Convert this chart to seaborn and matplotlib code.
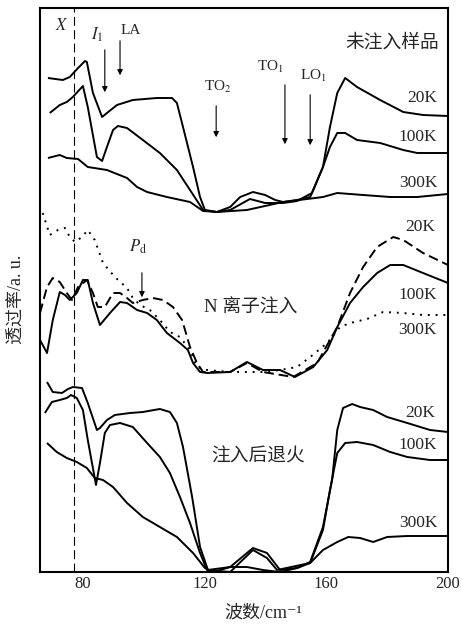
import matplotlib
matplotlib.use('Agg')
import matplotlib.pyplot as plt
import seaborn as sns

# ---- 未注入样品 (top group) ----
wn_u20 = [68.5, 73.4, 75.7, 78.4, 80.7, 81.3, 83.3, 86.3, 87.9, 91.2, 96.4, 104.3, 109.3, 110.9, 112.9, 116.2,
          118.5, 120.1, 124.0, 128.4, 131.7, 135.9, 139.9, 143.2, 145.8, 150.4, 154.7, 158.9, 161.2, 163.6,
          166.2, 170.1, 177.7, 185.3, 191.8, 200]
tr_u20 = [494, 492, 495, 504, 511, 510, 479, 455, 459, 467, 472, 474, 474, 469, 445, 405,
          375, 362, 360, 365, 375, 380, 377, 372, 370, 372, 375, 405, 445, 479,
          494, 485, 472, 460, 457, 456]

wn_u100 = [69.1, 72.4, 74.7, 76.7, 80, 81.6, 84.6, 86.3, 87.9, 89.9, 91.5, 94.5, 99.7, 105.3, 110.9, 115.2,
           119.5, 124.0, 128.4, 134.9, 139.9, 145.8, 150.4, 155.3, 158.9, 161.2, 163.6, 166.2, 170.1, 177.7,
           185.3, 189.9, 200]
tr_u100 = [459, 467, 470, 475, 486, 465, 415, 411, 425, 442, 446, 444, 432, 419, 402, 382,
           362, 360, 362, 373, 369, 369, 371, 379, 405, 425, 439, 439, 432, 429,
           422, 419, 419]

wn_u300 = [68.5, 72.4, 74.7, 78.4, 81.6, 87.9, 94.5, 97.8, 101.1, 107.6, 115.2, 119.5, 124.0, 133.9, 145.8,
           153.7, 158.9, 163.6, 172.1, 181.0, 189.9, 200]
tr_u300 = [414, 417, 414, 413, 405, 402, 394, 385, 380, 375, 370, 361, 360, 362, 370,
           373, 375, 379, 377, 375, 375, 378]

# ---- N 离子注入 (middle group) ----
wn_n20 = [65.9, 68.2, 70.1, 72.4, 74.7, 76.4, 78.4, 81.3, 83.3, 84.9, 87.2, 89.9, 92.2, 94.5, 96.4, 99.7,
          103.0, 106.3, 109.6, 112.6, 115.2, 117.5, 119.5, 128.4, 133.9, 139.2, 149.1, 157.0, 163.6, 167.8,
          172.1, 176.7, 182.0, 185.3, 191.8, 200]
tr_n20 = [259, 285, 294, 290, 279, 272, 285, 292, 279, 265, 265, 279, 279, 274, 269, 272,
          274, 272, 265, 252, 225, 209, 200, 200, 209, 200, 195, 209, 245, 279,
          305, 325, 335, 332, 319, 307]

wn_n100 = [65.9, 68.2, 70.1, 72.4, 74.1, 75.7, 78.0, 80, 81.6, 83.3, 85.6, 88.9, 92.2, 94.5, 97.8, 101.1,
           104.3, 107.6, 111.9, 114.5, 116.2, 118.5, 120.8, 128.4, 133.9, 139.2, 144.8, 149.7, 155.7, 160.3,
           163.6, 167.8, 172.1, 176.7, 181.0, 185.3, 191.8, 200]
tr_n100 = [232, 219, 252, 280, 277, 272, 279, 292, 292, 269, 247, 259, 270, 269, 262, 259,
           252, 239, 229, 222, 209, 200, 199, 200, 210, 202, 202, 195, 205, 222,
           245, 269, 285, 299, 307, 307, 299, 289]

wn_n300 = [66.8, 69.1, 71.8, 74.1, 75.7, 77.4, 79.7, 81.6, 83.9, 86.6, 90.5, 94.5, 96.4, 98.8, 102.0, 105.3,
           108.6, 111.9, 115.2, 117.5, 120.8, 128.4, 133.9, 139.2, 144.8, 150.4, 154.7, 160.3, 164.5, 167.8,
           173.4, 178.7, 185.3, 191.8, 200]
tr_n300 = [359, 337, 342, 344, 335, 330, 335, 342, 332, 309, 295, 284, 274, 267, 262, 252,
           240, 235, 222, 205, 202, 200, 200, 200, 202, 205, 215, 229, 245, 249,
           253, 260, 259, 257, 257]

# ---- 注入后退火 (bottom group) ----
wn_a20 = [68.2, 70.1, 73.1, 75.1, 76.7, 79.7, 81.6, 84.6, 85.6, 87.9, 90.5, 95.5, 99.7, 105.3, 108.6, 110.9,
          112.9, 115.9, 118.5, 121.1, 128.4, 135.9, 140.5, 144.8, 150.4, 154.7, 158.9, 161.9, 163.6, 165.5,
          168.5, 171.1, 175.4, 180.0, 186.6, 194.1, 200]
tr_a20 = [190, 180, 179, 183, 185, 184, 169, 142, 144, 152, 157, 159, 160, 163, 160, 149,
          125, 75, 25, 2, 5, 24, 19, 2, 4, 10, 45, 92, 142, 164,
          168, 165, 162, 155, 149, 142, 140]

wn_a100 = [67.5, 69.8, 72.4, 74.7, 76.1, 78.0, 80, 81.6, 84.3, 85.6, 87.2, 88.9, 92.2, 96.4, 101.1, 105.3,
           108.6, 111.9, 115.2, 118.5, 120.8, 128.4, 135.9, 140.5, 143.8, 154.7, 158.9, 161.2, 163.6, 166.2,
           170.1, 175.4, 181.0, 186.6, 194.1, 200]
tr_a100 = [159, 170, 172, 174, 177, 174, 162, 132, 87, 109, 139, 147, 149, 145, 129, 115,
           99, 75, 49, 19, 2, 0, 22, 14, 2, 9, 42, 82, 119, 129,
           130, 127, 120, 115, 112, 112]

wn_a300 = [68.2, 71.4, 74.7, 78.0, 81.3, 83.9, 86.6, 89.9, 94.5, 99.7, 105.3, 110.9, 116.2, 120.1, 122.8,
           128.4, 133.9, 139.2, 144.8, 150.4, 154.7, 158.9, 163.6, 167.2, 171.1, 175.4, 180.0, 186.6, 200]
tr_a300 = [129, 120, 114, 110, 104, 94, 92, 85, 69, 55, 45, 35, 19, 4, 0,
           5, 5, 2, 0, 4, 9, 22, 30, 35, 34, 30, 35, 36, 36]

x_mark = 77.2   # X 点位置
major_ticks = [80, 120, 160, 200]
minor_ticks = [100, 140, 180]

sns.set_style('white')
plt.rcParams['font.family'] = ['Liberation Serif', 'Noto Sans CJK SC', 'DejaVu Serif']
plt.rcParams['mathtext.fontset'] = 'stix'

fig = plt.figure(figsize=(4.62, 6.25), dpi=100)
ax = fig.add_axes([0.0866, 0.0848, 0.8831, 0.9024])

solid = (0, ())
dashed = (0, (5, 2.5))
dotted = (0, (1, 3))
curves = [
    (wn_u20, tr_u20, solid), (wn_u100, tr_u100, solid), (wn_u300, tr_u300, solid),
    (wn_n20, tr_n20, dashed), (wn_n100, tr_n100, solid), (wn_n300, tr_n300, dotted),
    (wn_a20, tr_a20, solid), (wn_a100, tr_a100, solid), (wn_a300, tr_a300, solid),
]
for wn, tr, ls in curves:
    sns.lineplot(x=wn, y=tr, ax=ax, color='black', linewidth=1.4, linestyle=ls,
                 sort=False, estimator=None)

ax.axvline(x_mark, color='black', linewidth=0.8, linestyle=(0, (8, 4)))

ax.set_xlim(65.9, 200)
ax.set_ylim(0, 564)
ax.set_xticks(major_ticks)
ax.set_xticks(minor_ticks, minor=True)
ax.set_yticks([])
ax.tick_params(axis='x', which='both', direction='in', length=8, width=1.2,
               labelsize=12, pad=3, top=False)
for s in ax.spines.values():
    s.set_linewidth(1.5)
    s.set_color('black')

ax.set_xlabel('波数/cm⁻¹', fontsize=13)
ax.xaxis.set_label_coords(0.547, -0.058)
ax.set_ylabel('透过率/a. u.', fontsize=13)
ax.yaxis.set_label_coords(-0.034, 0.484)

# 峰位标注
arr = dict(arrowstyle='-|>', color='black', lw=0.8, mutation_scale=8)
for x0, y0, y1 in [(87.2, 525, 477), (92.2, 534, 494), (123.8, 469, 432),
                   (146.4, 490, 425), (154.7, 480, 424), (99.4, 302, 272)]:
    ax.annotate('', xy=(x0, y1), xytext=(x0, y0), arrowprops=arr)

ax.text(73.1, 546, '$X$', fontsize=12, ha='center', va='center')
ax.text(84.6, 537, '$I_1$', fontsize=12, ha='center', va='center')
ax.text(95.8, 542, 'LA', fontsize=11, ha='center', va='center')
ax.text(124.4, 485, 'TO$_2$', fontsize=11, ha='center', va='center')
ax.text(141.5, 505, 'TO$_1$', fontsize=11, ha='center', va='center')
ax.text(155.7, 496, 'LO$_1$', fontsize=11, ha='center', va='center')
ax.text(98.1, 325, r'$P_{\rm d}$', fontsize=12, ha='center', va='center')

ax.text(181.6, 529, '未注入样品', fontsize=13.5, ha='center', va='center')
ax.text(135.3, 264, 'N 离子注入', fontsize=13.5, ha='center', va='center')
ax.text(137.6, 115, '注入后退火', fontsize=13.5, ha='center', va='center')

for x0, y0, s in [(191.5, 474, '20K'), (189.9, 435, '100K'), (190.2, 389, '300K'),
                  (190.9, 345, '20K'), (189.9, 277, '100K'), (189.9, 242, '300K'),
                  (190.9, 159, '20K'), (189.9, 127, '100K'), (190.2, 49, '300K')]:
    ax.text(x0, y0, s, fontsize=12.5, ha='center', va='center')

fig.savefig('out.png', dpi=100)
